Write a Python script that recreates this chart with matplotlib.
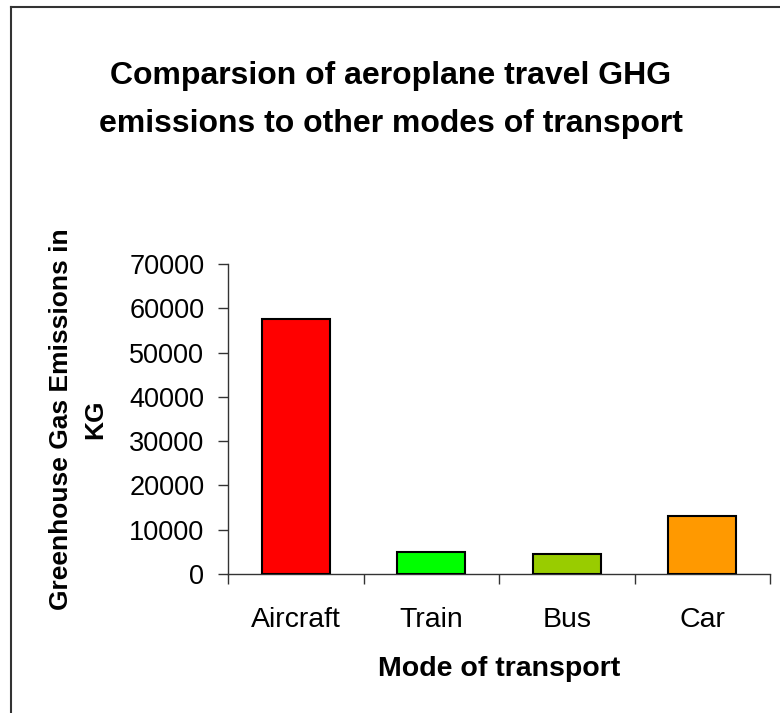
import matplotlib.pyplot as plt
from matplotlib.lines import Line2D

plt.rcParams['font.family'] = ['Liberation Sans', 'DejaVu Sans']

# data
MODES       = ['Aircraft', 'Train', 'Bus', 'Car']
EMISSIONS   = [57500, 5000, 4600, 13100]
BAR_COLORS  = ['#FF0000', '#00FF00', '#99CC00', '#FF9900']
Y_TICKS     = [0, 10000, 20000, 30000, 40000, 50000, 60000, 70000]


def main():
    fig = plt.figure(figsize=(7.8, 7.13), dpi=100)
    W, H = 780, 713

    # plot area placed in pixel terms
    left, right, bottom, top = 228, 770, 574, 264
    ax = fig.add_axes([left / W, 1 - bottom / H, (right - left) / W, (bottom - top) / H])

    x = list(range(len(MODES)))
    ax.bar(x, EMISSIONS, width=0.5, color=BAR_COLORS, edgecolor='black', linewidth=1.5, zorder=3)

    # axes look like the old Excel chart
    ax.set_xlim(-0.5, len(MODES) - 0.5)
    ax.set_ylim(0, 70000)
    ax.set_yticks(Y_TICKS)
    ax.set_yticklabels([str(v) for v in Y_TICKS], fontsize=19.5)
    ax.tick_params(axis='y', direction='out', length=7, width=1, pad=10, color='#333333')

    # category boundaries as ticks, names in the middle
    ax.set_xticks([i - 0.5 for i in range(len(MODES) + 1)])
    ax.set_xticklabels([])
    ax.set_xticks(x, minor=True)
    ax.set_xticklabels(MODES, minor=True, fontsize=20.5)
    ax.tick_params(axis='x', which='major', direction='out', length=7, width=1, color='#333333')
    ax.tick_params(axis='x', which='minor', length=0, pad=24)

    for side in ['top', 'right']:
        ax.spines[side].set_visible(False)
    for side in ['left', 'bottom']:
        ax.spines[side].set_color('#333333')
        ax.spines[side].set_linewidth(1)

    ax.set_xlabel('Mode of transport', fontsize=20.5, fontweight='bold', labelpad=16)
    ax.set_ylabel('Greenhouse Gas Emissions in\nKG', fontsize=19, fontweight='bold',
                  labelpad=16, linespacing=1.5)

    fig.text(391 / W, 1 - 100 / H, 'Comparsion of aeroplane travel GHG\nemissions to other modes of transport',
             ha='center', va='center', fontsize=23, fontweight='bold', linespacing=1.75)

    # chart frame (only top and left edges show)
    fig.add_artist(Line2D([11 / W, 11 / W], [0, 1 - 7 / H], color='#333333', lw=1.5))
    fig.add_artist(Line2D([11 / W, 1], [1 - 7 / H, 1 - 7 / H], color='#333333', lw=1.5))

    fig.savefig('out.png', dpi=100)


if __name__ == "__main__":
    main()
